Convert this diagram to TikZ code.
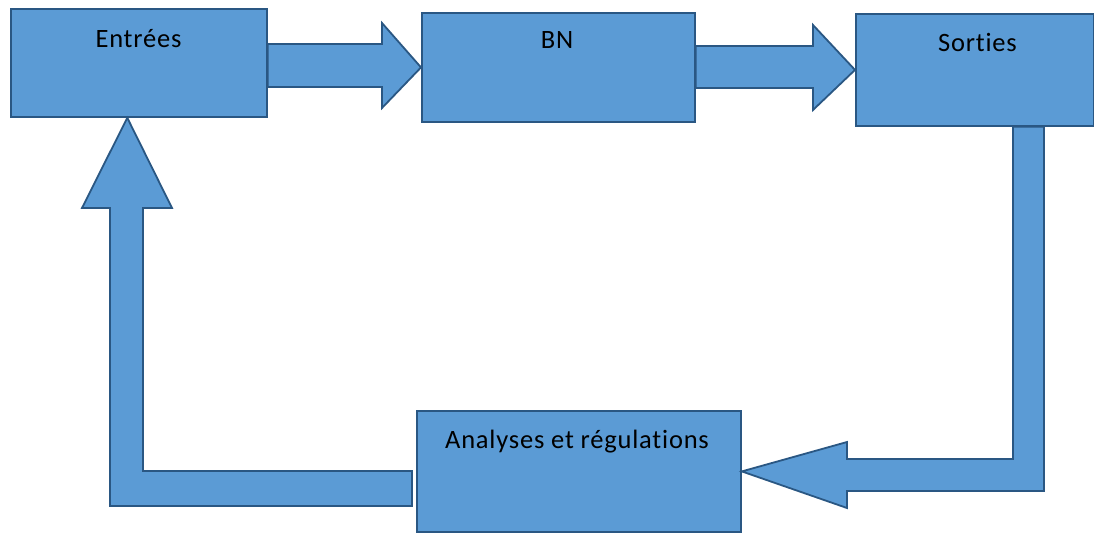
\documentclass[tikz,border=0pt]{standalone}
\usepackage{fontspec}
\setmainfont{Carlito}[Ligatures=NoCommon]
\newfontfamily\captionfont{Carlito}[Ligatures=NoCommon, LetterSpace=3]
\usetikzlibrary{calc}
\definecolor{boxfill}{HTML}{5B9BD5}
\definecolor{boxline}{HTML}{2A5783}

\begin{document}
\begin{tikzpicture}[x=1pt,y=-1pt,
  block/.style={draw=boxline, fill=boxfill, line width=1.8pt, rectangle,
    inner sep=0pt, anchor=north west},
  flow/.style={draw=boxline, fill=boxfill, line width=1.8pt, line join=miter},
  lbl/.style={font=\captionfont\fontsize{26.5}{30}\selectfont, inner sep=0pt, anchor=base}]
\useasboundingbox (0,0) rectangle (1094,533);

% the four blocks of the loop
\node[block, minimum width=256pt, minimum height=108pt] (ent) at (10,8) {};
\node[block, minimum width=273pt, minimum height=109pt] (bn)  at (421,12) {};
\node[block, minimum width=238pt, minimum height=112pt] (sor) at (855,13) {};
\node[block, minimum width=324pt, minimum height=121pt] (ana) at (416,410) {};

% block captions
\node[lbl] (tent) at (138.5,47) {Entrées};
\node[lbl] (tbn)  at (557,48) {BN};
\node[lbl] (tsor) at (977.5,51) {Sorties};
\node[lbl] (tana) at (577,448) {Analyses et régulations};

% block arrows
\draw[flow] (ent.east |- 0,44) -- (382,44) -- (382,23) -- (bn.west)
  -- (382,108) -- (382,87) -- (ent.east |- 0,87) -- cycle;
\draw[flow] (bn.east |- 0,46) -- (813,46) -- (813,25) -- (sor.west)
  -- (813,110) -- (813,88) -- (bn.east |- 0,88) -- cycle;
\draw[flow] (sor.south -| 1013,0) -- (sor.south -| 1044,0) -- (1044,491)
  -- (847,491) -- (847,508) -- (ana.east) -- (847,442) -- (847,459)
  -- (1013,459) -- cycle;
\coordinate (entin) at ($(ent.south west)!0.455!(ent.south east)$);
\draw[flow] (412,471) -- (412,506) -- (110,506) -- (110,208) -- (82,208)
  -- (entin) -- (172,208) -- (143,208) -- (143,471) -- cycle;
\end{tikzpicture}
\end{document}
